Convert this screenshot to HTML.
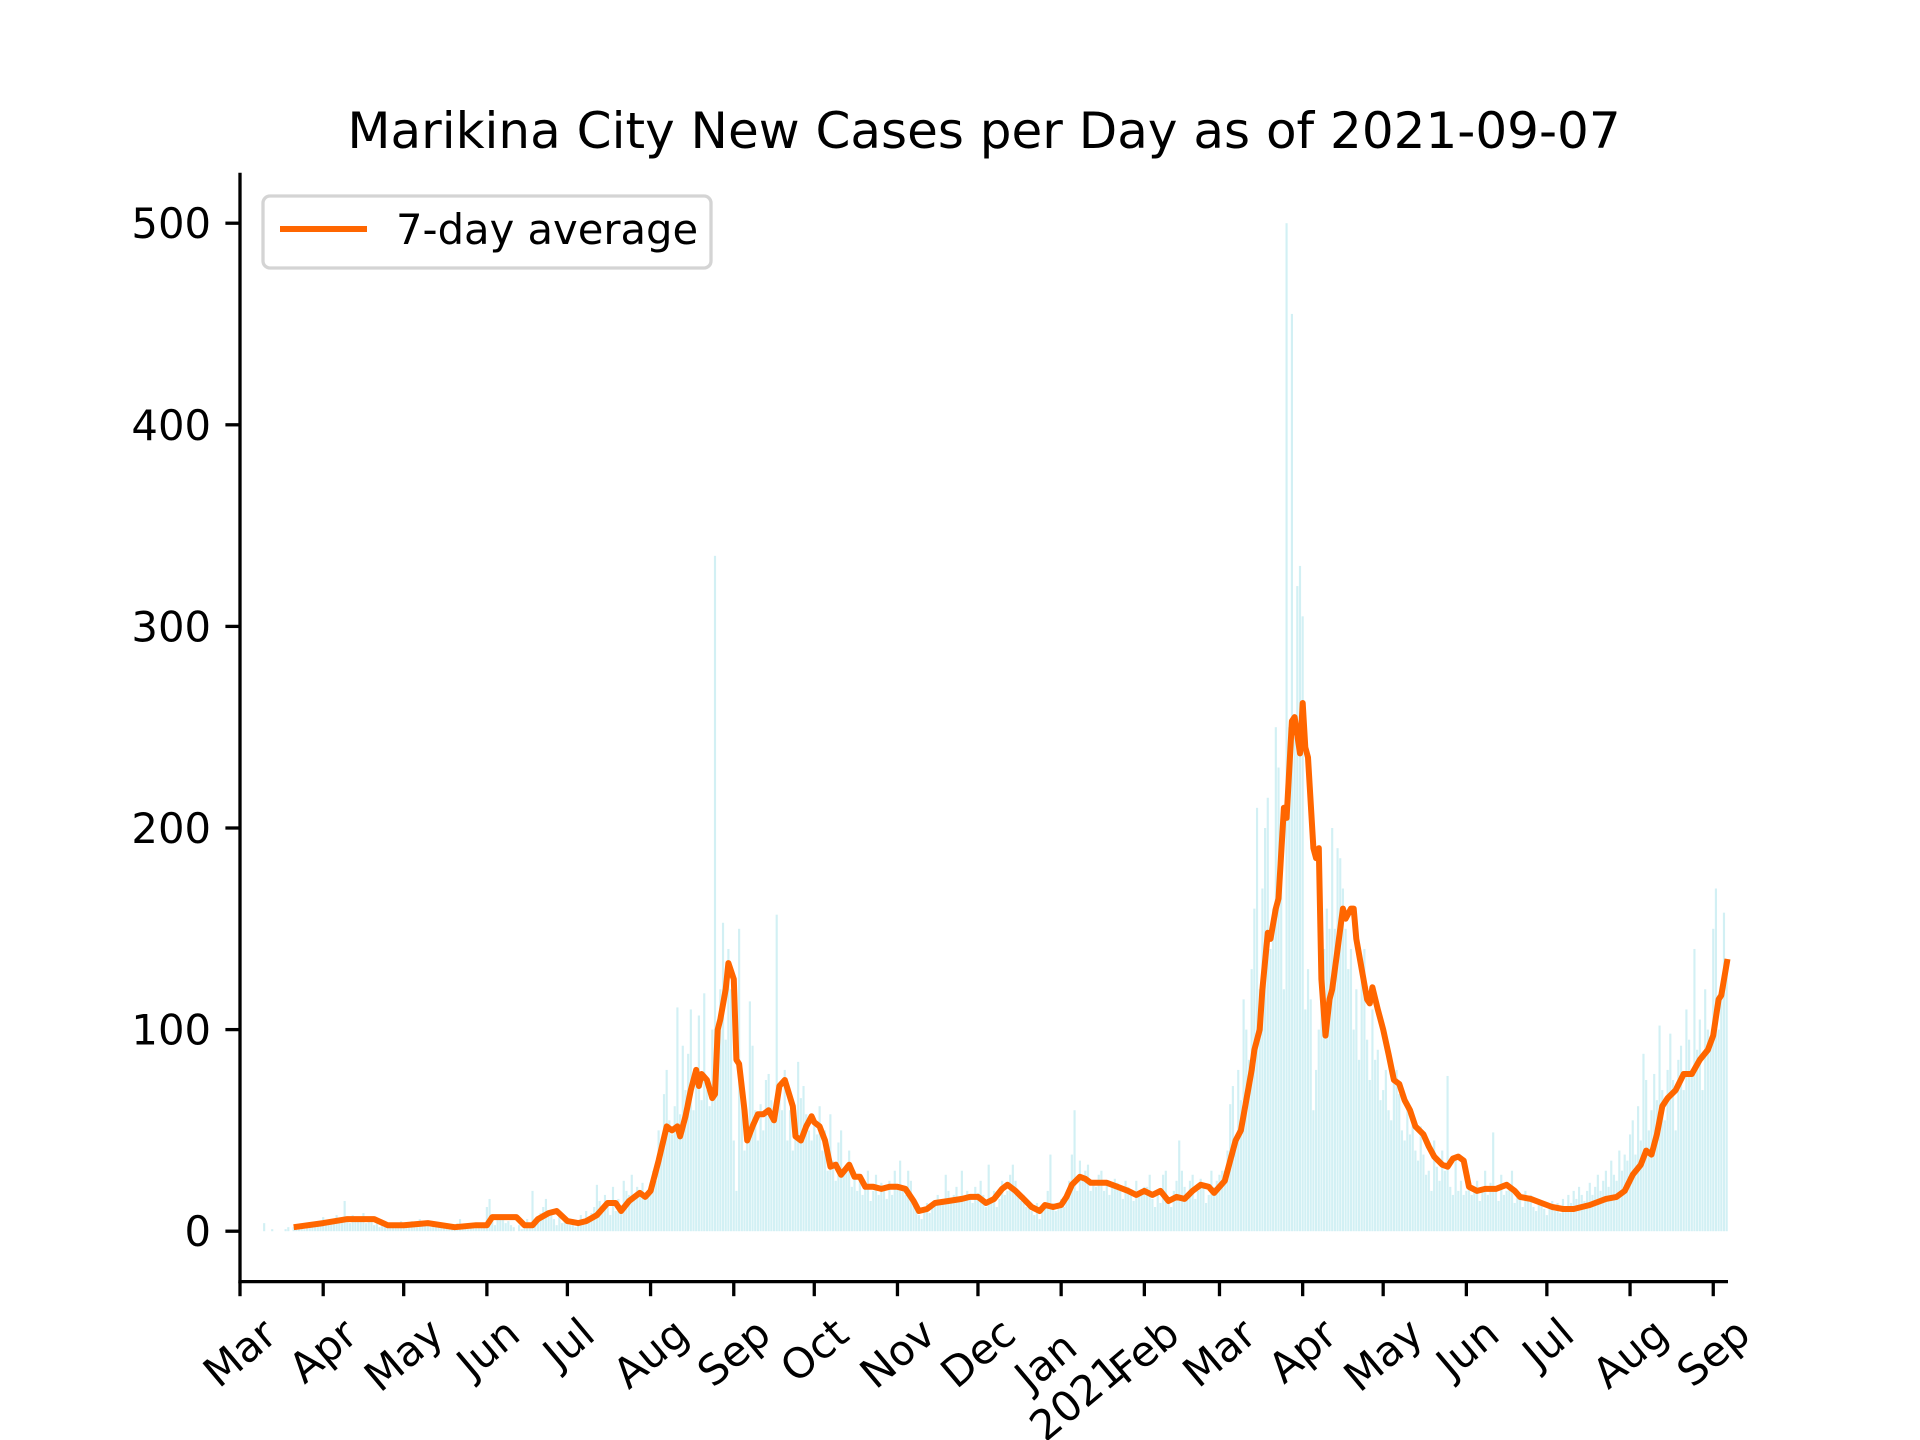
<!DOCTYPE html>
<html><head><meta charset="utf-8"><style>
html,body{margin:0;padding:0;background:#fff;}
svg{display:block;font-family:"DejaVu Sans","Liberation Sans",sans-serif;}
</style></head><body>
<svg id="chart" width="1920" height="1440" viewBox="0 0 1920 1440" xmlns="http://www.w3.org/2000/svg">
<rect width="1920" height="1440" fill="#fff"/>
<text x="984" y="148" font-size="50" text-anchor="middle" fill="#000">Marikina City New Cases per Day as of 2021-09-07</text>
<g id="bars"></g>
<path id="avgline" fill="none" stroke="#ff6600" stroke-width="6" stroke-linejoin="round"/>
<g id="axes"></g>
<g>
<rect x="263" y="196" width="448" height="72" rx="7" fill="#fff" fill-opacity="0.8" stroke="#d4d4d4" stroke-width="3.3"/>
<line x1="280" y1="229" x2="367" y2="229" stroke="#ff6600" stroke-width="6"/>
<text x="396" y="244" font-size="41.7" fill="#000">7-day average</text>
</g>
</svg>
<script>
// bars: daily new cases starting at day 8 (day 0 = 2020-03-01)
const barStartDay = 8;
const dailyCases = [
0,4,0,0,1,0,0,0,0,1,2,0,2,1,3,2,1,3,2,4,3,5,3,
7,3,5,4,6,8,4,6,15,5,4,8,6,5,7,9,4,6,5,3,6,2,4,3,2,3,4,2,3,5,
3,2,4,5,3,2,6,3,4,3,2,5,3,2,4,2,3,1,3,2,4,6,3,2,1,3,2,4,3,2,3,
12,16,6,3,8,7,6,4,5,3,2,0,3,1,4,6,3,20,5,4,9,12,16,10,8,6,3,7,4,5,
4,3,6,2,5,8,4,10,7,9,12,23,15,12,18,14,8,22,10,16,13,25,20,18,28,17,22,19,24,17,20,22,
30,25,50,45,68,80,55,48,62,111,58,92,70,88,110,60,75,107,65,118,70,62,100,335,80,120,153,95,140,120,45,
20,150,70,40,55,114,92,60,45,63,50,75,78,65,58,157,70,60,80,45,60,40,55,84,66,72,58,50,45,55,
48,62,40,50,30,58,35,25,44,50,28,30,40,22,30,20,25,18,22,30,15,20,28,18,24,20,16,25,18,30,22,
35,22,18,30,25,15,12,8,6,10,14,9,12,15,18,13,16,28,20,14,18,22,16,30,15,20,18,14,22,19,
25,18,12,33,15,20,12,16,25,18,20,28,33,25,20,15,18,12,14,10,8,14,6,10,12,20,38,14,10,12,16,
12,18,25,38,60,20,35,28,30,33,20,25,22,28,30,20,25,18,22,26,24,20,16,25,22,18,15,25,20,18,22,
22,28,16,12,18,14,28,30,16,12,20,25,45,30,22,18,25,28,16,20,26,22,14,18,30,22,25,28,30,
30,40,63,72,45,80,65,115,100,85,130,160,210,120,170,200,215,140,160,250,230,175,120,500,250,455,245,320,330,305,110,
130,115,60,80,100,170,140,160,150,200,150,190,185,170,150,130,140,100,120,85,125,140,95,75,110,85,90,65,70,80,
60,55,75,80,68,50,45,62,48,55,40,35,52,38,28,30,20,45,32,25,40,30,77,22,18,35,20,25,18,
20,28,18,22,25,15,20,30,18,24,49,22,15,28,18,20,22,30,14,18,16,12,20,15,18,12,10,14,13,11,
8,12,15,10,14,9,16,12,18,14,20,16,22,18,15,20,24,18,22,28,20,25,30,22,35,28,25,40,30,38,35,
48,55,38,62,45,88,75,50,60,78,65,102,70,55,80,98,75,50,85,92,70,110,95,80,140,90,105,70,120,100,95,
150,170,100,120,158,135
];
// 7-day average: day index and value (parallel arrays)
const avgDays = [
20,31,40,50,55,61,70,80,88,92,94,103,106,109,111,115,118,
122,126,129,133,137,140,142,145,149,151,
153,156,159,161,163,164,166,168,170,171,172,174,176,177,178,179,181,182,
184,185,186,188,189,191,193,195,197,199,201,203,206,207,209,211,213,
214,216,218,220,222,224,227,229,231,233,236,239,242,
245,248,251,253,256,259,264,269,272,
275,278,281,284,286,289,292,295,298,300,303,
306,308,310,313,315,317,323,327,331,334,
337,340,343,346,349,352,355,358,361,363,
365,367,369,371,373,375,377,378,380,381,383,384,386,387,389,390,392,393,395,
396,397,398,400,401,402,403,404.5,406,407,409,411,412,414,415,416,418,420,421,422,424,
426,428,430,432,434,436,438,441,443,445,448,450,452,454,456,
458,461,464,468,472,475,477,481,485,
489,493,497,503,509,513,516,
519,522,524,526,528,530,532,535,538,541,544,547,549,551,552,554.3];
const avgValues = [
2,4,6,6,3,3,4,2,3,3,7,7,3,3,6,9,10,
5,4,5,8,14,14,10,15,19,17,
20,35,52,50,52,47,57,70,80,72,78,75,66,68,100,105,120,133,
125,85,83,60,45,52,58,58,60,55,72,75,62,47,45,52,57,
54,52,45,32,33,28,33,27,27,22,22,21,22,
22,21,15,10,11,14,15,16,17,
17,14,16,21,23,20,16,12,10,13,12,
13,17,23,27,26,24,24,22,20,18,
20,18,20,15,17,16,20,23,22,19,
22,25,35,45,50,65,80,90,100,120,148,145,160,165,210,205,253,255,237,
262,240,235,190,185,190,125,97,115,120,140,160,155,160,160,145,130,115,113,121,110,
100,88,75,73,65,60,52,48,42,37,33,32,36,37,35,
22,20,21,21,23,20,17,16,14,
12,11,11,13,16,17,20,
28,33,40,38,48,62,66,70,78,78,85,90,97,115,117,135];
const yTicks = [0,100,200,300,400,500];
const xTickDays = [0,31,61,92,122,153,184,214,245,275,306,337,365,396,426,457,487,518,549];
const xTickLabels = ["Mar","Apr","May","Jun","Jul","Aug","Sep","Oct","Nov","Dec","Jan|2021","Feb","Mar","Apr","May","Jun","Jul","Aug","Sep"];

const L=240,R=1728,T=172.8,B=1281.6, XMIN=0, XMAX=554.5, YMIN=-25, YMAX=525;
const xs = d => L + (d - XMIN) / (XMAX - XMIN) * (R - L);
const ys = v => B - (v - YMIN) / (YMAX - YMIN) * (B - T);
const NS = "http://www.w3.org/2000/svg";

const barsG = document.getElementById('bars');
const bw = (xs(1) - xs(0)) * 0.8;
dailyCases.forEach((v, i) => {
  const d = barStartDay + i;
  const r = document.createElementNS(NS, 'rect');
  r.setAttribute('x', xs(d) - bw / 2);
  r.setAttribute('y', Math.min(ys(v), ys(0)));
  r.setAttribute('width', bw);
  r.setAttribute('height', Math.abs(ys(0) - ys(v)));
  r.setAttribute('fill', '#d2f0f4');
  
  
  barsG.appendChild(r);
});

let dstr = '';
const n = Math.min(avgDays.length, avgValues.length);
for (let i = 0; i < n; i++) { dstr += (i ? 'L' : 'M') + xs(avgDays[i]).toFixed(1) + ' ' + ys(avgValues[i]).toFixed(1); }
document.getElementById('avgline').setAttribute('d', dstr);

const ax = document.getElementById('axes');
function ln(x1, y1, x2, y2, name) {
  const l = document.createElementNS(NS, 'line');
  l.setAttribute('x1', x1); l.setAttribute('y1', y1); l.setAttribute('x2', x2); l.setAttribute('y2', y2);
  l.setAttribute('stroke', '#000'); l.setAttribute('stroke-width', '3.3');
  
  
  ax.appendChild(l);
}
ln(L, T, L, B + 1.6, 'y-axis-spine');
ln(L - 1.6, B, R, B, 'x-axis-spine');
yTicks.forEach(v => {
  const y = ys(v);
  ln(L - 14.6, y, L, y, 'y-tick');
  const t = document.createElementNS(NS, 'text');
  t.setAttribute('x', L - 29); t.setAttribute('y', y + 15);
  t.setAttribute('font-size', '41.7'); t.setAttribute('text-anchor', 'end');
  t.textContent = v;
  
  
  ax.appendChild(t);
});
xTickDays.forEach((d, i) => {
  const x = xs(d);
  ln(x, B, x, B + 14.6, 'x-tick');
  const lines = xTickLabels[i].split('|');
  const g = document.createElementNS(NS, 'g');
  
  
  const t = document.createElementNS(NS, 'text');
  t.setAttribute('font-size', '41.7'); t.setAttribute('text-anchor', 'middle');
  lines.forEach((s, k) => {
    const sp = document.createElementNS(NS, 'tspan');
    sp.setAttribute('x', 0); sp.setAttribute('dy', k ? 48 : 0);
    sp.textContent = s;
    t.appendChild(sp);
  });
  g.appendChild(t);
  ax.appendChild(g);
  const bb = t.getBBox();
  const w = bb.width, h = bb.height;
  const a = 40 * Math.PI / 180;
  const bh = w * Math.sin(a) + h * Math.cos(a);
  const cy = B + 14.6 + 12 + bh / 2;
  const tcx = bb.x + w / 2, tcy = bb.y + h / 2;
  g.setAttribute('transform', `translate(${x},${cy}) rotate(-40) translate(${-tcx},${-tcy})`);
});
</script>
</body></html>
